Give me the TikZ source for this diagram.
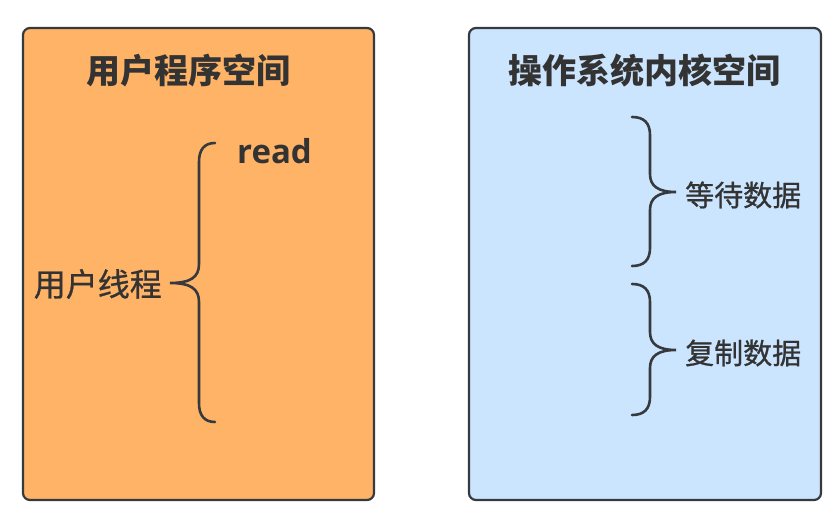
\documentclass[tikz,border=0pt]{standalone}
\usepackage{fontspec}
\newfontfamily\cjk{Noto Sans CJK SC}
\newfontfamily\cjkm[FakeBold=0.8]{Noto Sans CJK SC}
\setmainfont{Open Sans}
\definecolor{orangefill}{HTML}{FFB366}
\definecolor{bluefill}{HTML}{CCE5FF}
\definecolor{edge}{HTML}{36393D}
\definecolor{txt}{HTML}{333333}
\begin{document}
\begin{tikzpicture}[x=1pt,y=-1pt,
  panel/.style={draw=edge,line width=2.2pt,rounded corners=7pt},
  brace/.style={draw=edge,line width=2.6pt,line cap=round},
  title/.style={text=txt,font=\cjk\bfseries\fontsize{34}{38}\selectfont,inner sep=0pt},
  lbl/.style={text=txt,font=\cjkm\fontsize{32}{36}\selectfont,inner sep=0pt},
  lbls/.style={text=txt,font=\cjkm\fontsize{29}{33}\selectfont,inner sep=0pt}]
\useasboundingbox (0,0) rectangle (836,532);
\fill[white] (0,0) rectangle (836,532);
% panels
\path[panel,fill=orangefill] (23,28) rectangle (374,500);
\path[panel,fill=bluefill] (469,28) rectangle (821,500);
\node[title] (t1) at (188,71) {用户程序空间};
\node[title] (t2) at (644,71) {操作系统内核空间};
% left brace
\coordinate (lt) at (215,143);
\coordinate (lm) at (170,283);
\coordinate (lb) at (215,422);
\draw[brace] (lt) .. controls (204,143) and (199,150) .. (199,162) -- (199,264)
  .. controls (199,277) and (191,283) .. (lm)
  .. controls (191,283) and (199,289) .. (199,302) -- (199,403)
  .. controls (199,415) and (204,422) .. (lb);
\node[lbl,anchor=east] (ut) at (162,284) {用户线程};
\node[text=txt,font=\bfseries\fontsize{33}{37}\selectfont,inner sep=0pt,anchor=west] (rd) at (237,151) {read};
% right brace 1
\coordinate (r1t) at (632,117);
\coordinate (r1m) at (676,192);
\coordinate (r1b) at (632,266);
\draw[brace] (r1t) .. controls (644,117) and (650,123) .. (650,135) -- (650,174)
  .. controls (650,186) and (658,192) .. (r1m)
  .. controls (658,192) and (650,198) .. (650,210) -- (650,248)
  .. controls (650,260) and (644,266) .. (r1b);
\node[lbls,anchor=west] (wd) at (685,195) {等待数据};
% right brace 2
\coordinate (r2t) at (632,284);
\coordinate (r2m) at (676,350);
\coordinate (r2b) at (632,415);
\draw[brace] (r2t) .. controls (644,284) and (650,290) .. (650,302) -- (650,332)
  .. controls (650,344) and (658,350) .. (r2m)
  .. controls (658,350) and (650,356) .. (650,368) -- (650,397)
  .. controls (650,409) and (644,415) .. (r2b);
\node[lbls,anchor=west] (cd) at (685,353) {复制数据};
\end{tikzpicture}
\end{document}
